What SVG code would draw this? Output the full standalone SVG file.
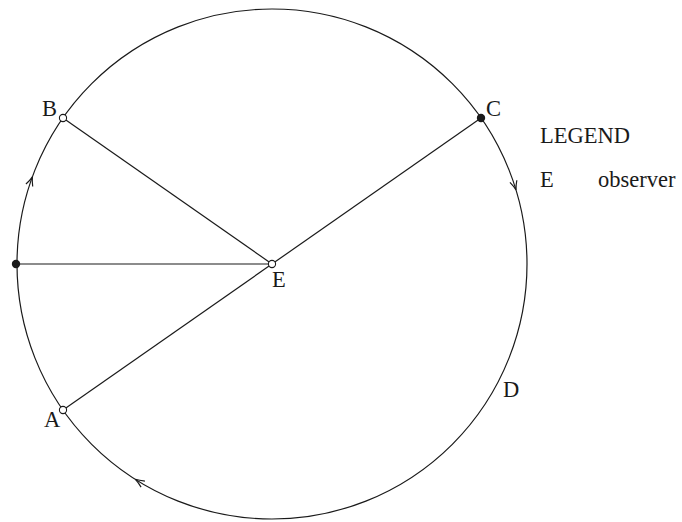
<svg xmlns="http://www.w3.org/2000/svg" width="682" height="522" viewBox="0 0 682 522">
<style>
.ln{stroke:#1a1a1a;stroke-width:1.2;fill:none}
.open{fill:#fff;stroke:#1a1a1a;stroke-width:1.1}
.fill{fill:#1a1a1a;stroke:none}
.lbl{font-family:"Liberation Serif","Times New Roman",serif;font-size:22.5px;fill:#1a1a1a}
.arr{stroke:#1a1a1a;stroke-width:1.2;fill:none;stroke-linejoin:miter}
</style>
<defs>
<path id="ah" d="M-9,-3.6 Q-4,-1 0,0 Q-4,1 -9,3.6" class="arr"/>
</defs>
<rect width="682" height="522" fill="#fff"/>
<g id="connectors">
<circle class="ln" cx="272" cy="264" r="255"/>
<line class="ln" x1="63" y1="118" x2="272" y2="264"/>
<line class="ln" x1="16" y1="264" x2="272" y2="264"/>
<line class="ln" x1="63" y1="410" x2="481" y2="118"/>
<use href="#ah" transform="translate(32.4,176.8) rotate(-70)"/>
<use href="#ah" transform="translate(516,189.9) rotate(73.1)"/>
<use href="#ah" transform="translate(135.4,479.3) rotate(212.4)"/>
</g>
<g id="node-B"><circle class="open" cx="63" cy="118" r="3.6"/><text class="lbl" x="42" y="116">B</text></g>
<g id="node-C"><circle class="fill" cx="481" cy="118" r="4.2"/><text class="lbl" x="486" y="116">C</text></g>
<g id="node-L"><circle class="fill" cx="16" cy="264" r="4.2"/></g>
<g id="node-E"><circle class="open" cx="272" cy="264" r="3.6"/><text class="lbl" x="272" y="287">E</text></g>
<g id="node-A"><circle class="open" cx="63" cy="410" r="3.6"/><text class="lbl" x="44" y="427">A</text></g>
<g id="node-D"><text class="lbl" x="503" y="397">D</text></g>
<g id="legend">
<text class="lbl" x="540" y="143">LEGEND</text>
<text class="lbl" x="540" y="187">E</text>
<text class="lbl" x="598" y="187">observer</text>
</g>
</svg>
